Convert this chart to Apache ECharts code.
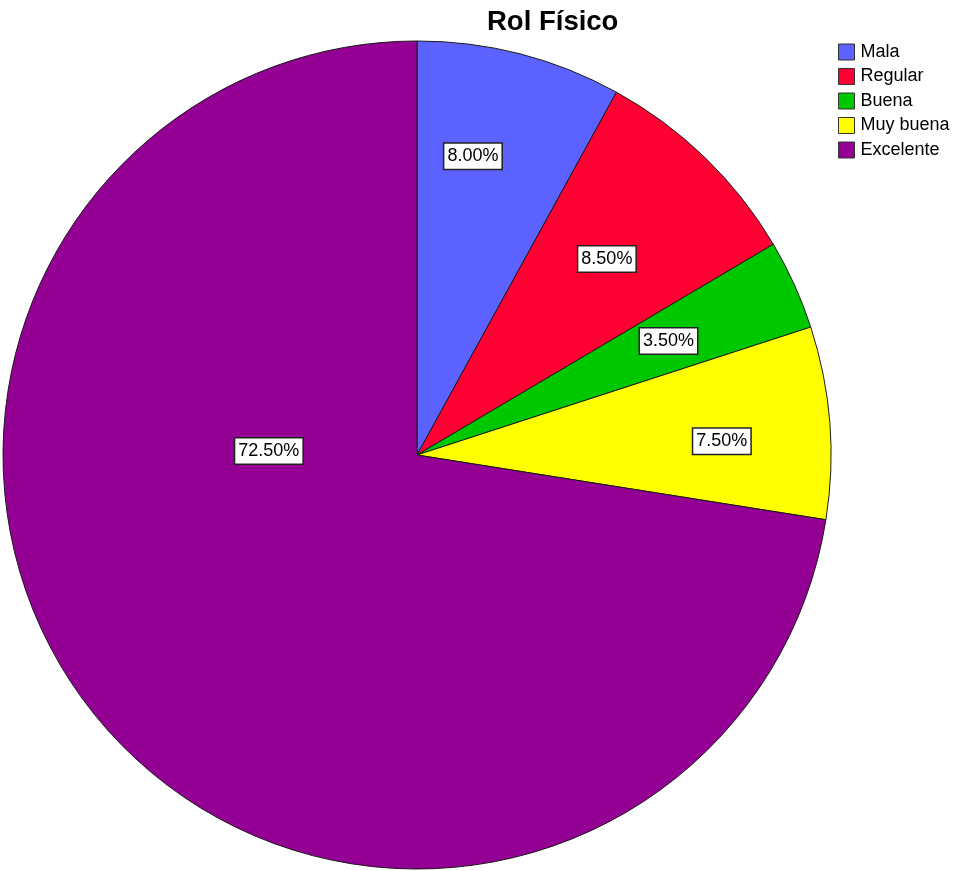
<!DOCTYPE html>
<html>
<head>
<meta charset="utf-8">
<script src="https://cdn.jsdelivr.net/npm/echarts@6/dist/echarts.min.js"></script>
<style>
  html, body { margin: 0; padding: 0; background: #fff; }
  #chart { width: 957px; height: 871px; }
</style>
</head>
<body>
<div id="chart"></div>
<script>
// Rol Físico — distribución porcentual por categoría
const categories = ['Mala', 'Regular', 'Buena', 'Muy buena', 'Excelente'];
const percentages = [8.0, 8.5, 3.5, 7.5, 72.5];
const sliceColors = ['#5C62FF', '#FF0033', '#00C800', '#FFFF00', '#930093'];

// Label anchors in polar form: [angle from 12 o'clock in degrees, fraction of radius]
const labelAnchors = [[10.6, 0.734], [44.1, 0.659], [65.6, 0.667], [87.4, 0.737], [271.5, 0.358]];

const FONT = '"Liberation Sans", Arial, sans-serif';
const CX = 417, CY = 455, R = 414;

const chart = echarts.init(document.getElementById('chart'), null, { renderer: 'canvas' });

chart.setOption({
  animation: false,
  backgroundColor: '#ffffff',
  title: {
    text: 'Rol Físico',
    left: 482,
    top: 3,
    textStyle: { fontFamily: FONT, fontSize: 27.5, fontWeight: 'bold', color: '#000' }
  },
  legend: {
    orient: 'vertical',
    left: 833,
    top: 38,
    itemWidth: 16,
    itemHeight: 16,
    itemGap: 6.5,
    icon: 'rect',
    selectedMode: false,
    itemStyle: { borderColor: '#333', borderWidth: 1 },
    textStyle: { fontFamily: FONT, fontSize: 18, color: '#000', lineHeight: 16, padding: [0, 0, 0, 1] },
    data: categories
  },
  series: [{
    type: 'pie',
    center: [CX, CY],
    radius: R,
    startAngle: 90,
    clockwise: true,
    avoidLabelOverlap: false,
    emphasis: { disabled: true },
    itemStyle: { borderColor: '#1a1a1a', borderWidth: 1 },
    label: {
      show: true,
      position: 'inside',
      formatter: p => p.value.toFixed(2) + '%',
      fontFamily: FONT,
      fontSize: 18,
      color: '#000',
      backgroundColor: '#ffffff',
      borderColor: '#222',
      borderWidth: 1.5,
      padding: [4, 3, 3, 3]
    },
    labelLine: { show: false },
    labelLayout: function (params) {
      const a = labelAnchors[params.dataIndex];
      const rad = a[0] * Math.PI / 180;
      return {
        x: CX + a[1] * R * Math.sin(rad),
        y: CY - a[1] * R * Math.cos(rad),
        align: 'center',
        verticalAlign: 'middle'
      };
    },
    data: categories.map((name, i) => ({
      name: name,
      value: percentages[i],
      itemStyle: { color: sliceColors[i] }
    }))
  }]
});
</script>
</body>
</html>
